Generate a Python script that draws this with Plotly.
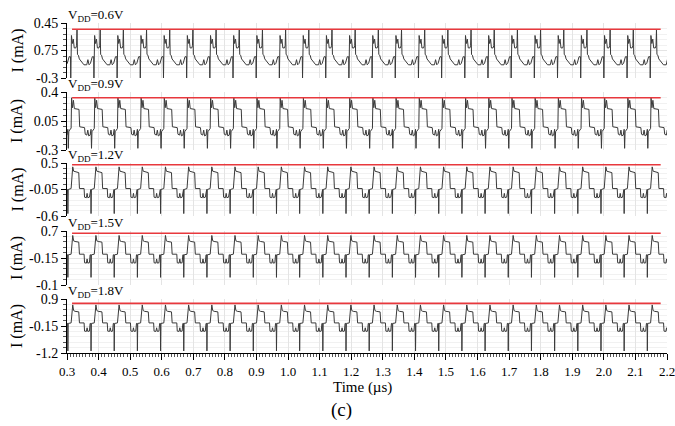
import numpy as np
import plotly.graph_objects as go

# ---------------- data ----------------
time_ticks = [0.3, 0.4, 0.5, 0.6, 0.7, 0.8, 0.9, 1.0, 1.1, 1.2, 1.3, 1.4, 1.5,
              1.6, 1.7, 1.8, 1.9, 2.0, 2.1, 2.2]
time_tick_labels = ["0.3", "0.4", "0.5", "0.6", "0.7", "0.8", "0.9", "1.0", "1.1",
                    "1.2", "1.3", "1.4", "1.5", "1.6", "1.7", "1.8", "1.9", "2.0",
                    "2.1", "2.2"]
vdd_labels = ["0.6", "0.9", "1.2", "1.5", "1.8"]

period_us = 0.0734           # waveform period
first_edge_us = [0.3317, 0.313, 0.313, 0.313, 0.313]
n_periods = 27

# one period of each current waveform (phase fraction, current in mA)
p1_phase = [0.00, 0.02, 0.06, 0.10, 0.16, 0.22, 0.30, 0.42, 0.47, 0.52, 0.58,
            0.66, 0.72, 0.73, 0.76, 0.80, 0.84, 0.88, 0.95, 0.98]
p1_current = [0.36, 0.02, 0.01, -0.04, -0.06, -0.09, -0.12, -0.12, -0.05, -0.12,
              -0.10, -0.01, -0.01, -0.30, 0.28, 0.17, 0.23, 0.11, 0.11, 0.14]

p2_phase = [0.00, 0.02, 0.06, 0.10, 0.14, 0.34, 0.37, 0.58, 0.61, 0.68, 0.72,
            0.76, 0.82, 0.86, 0.88, 0.90, 0.95]
p2_current = [-0.04, 0.33, 0.21, 0.30, 0.20, 0.19, -0.02, -0.03, -0.11, -0.12,
              -0.06, -0.13, -0.12, -0.05, -0.28, -0.08, -0.05]

p3_phase = [0.00, 0.03, 0.07, 0.11, 0.17, 0.33, 0.36, 0.56, 0.58, 0.66, 0.69,
            0.72, 0.79, 0.82, 0.85, 0.86, 0.875]
p3_current = [-0.03, 0.32, 0.42, 0.33, 0.32, 0.30, -0.03, -0.03, -0.21, -0.22,
              -0.13, -0.22, -0.21, -0.05, -0.05, -0.55, -0.05]

p4_phase = [0.00, 0.03, 0.07, 0.11, 0.17, 0.33, 0.36, 0.56, 0.58, 0.66, 0.69,
            0.72, 0.79, 0.82, 0.85, 0.86, 0.875]
p4_current = [-0.03, 0.42, 0.56, 0.39, 0.37, 0.35, -0.03, -0.03, -0.30, -0.31,
              -0.18, -0.31, -0.30, -0.05, -0.05, -0.76, -0.05]

p5_phase = [0.00, 0.03, 0.07, 0.11, 0.17, 0.33, 0.36, 0.56, 0.58, 0.66, 0.69,
            0.72, 0.79, 0.82, 0.85, 0.86, 0.875]
p5_current = [-0.03, 0.50, 0.67, 0.45, 0.42, 0.40, -0.03, -0.03, -0.35, -0.36,
              -0.22, -0.36, -0.35, -0.05, -0.05, -1.12, -0.05]

red_level = [0.364, 0.331, 0.465, 0.63, 0.73]
red_start_us, red_end_us = 0.316, 2.18

y_low = [-0.3, -0.3, -0.6, -1.0, -1.2]
y_mid = [0.075, 0.05, -0.05, -0.15, -0.15]
y_high = [0.45, 0.4, 0.5, 0.7, 0.9]
y_tick_text = [["-0.3", "0.75", "0.45"],
               ["-0.3", "0.05", "0.4"],
               ["-0.6", "-0.05", "0.5"],
               ["-0.1", "-0.15", "0.7"],
               ["-1.2", "-0.15", "0.9"]]

shapes_phase = [p1_phase, p2_phase, p3_phase, p4_phase, p5_phase]
shapes_current = [p1_current, p2_current, p3_current, p4_current, p5_current]

# ---------------- layout geometry ----------------
W, H = 675, 426
ML, MR, MT, MB = 67, 8, 23, 73
plot_h = H - MT - MB
panel_px = [(23, 78), (92, 150), (163, 216), (231, 285), (299, 353)]
label_px = [15, 84, 155, 223, 291]


def py(px):
    return (H - MB - px) / plot_h


def px_x(px):
    return (px - ML) / (W - ML - MR)


FONT = "serif"

fig = go.Figure()
layout = dict(
    template="none",
    width=W, height=H,
    margin=dict(l=ML, r=MR, t=MT, b=MB, autoexpand=False),
    paper_bgcolor="white", plot_bgcolor="white",
    showlegend=False,
    font=dict(family=FONT, color="black"),
    annotations=[],
)

for i in range(5):
    n = i + 1
    xa = "x" if n == 1 else f"x{n}"
    ya = "y" if n == 1 else f"y{n}"
    ph = np.array(shapes_phase[i])
    cur = np.array(shapes_current[i])
    t = np.concatenate([first_edge_us[i] + (k + ph) * period_us
                        for k in range(-1, n_periods)])
    c = np.tile(cur, n_periods + 1)
    fig.add_trace(go.Scatter(x=t, y=c, mode="lines", xaxis=xa, yaxis=ya,
                             line=dict(color="#3a3a3a", width=1)))
    fig.add_trace(go.Scatter(x=[red_start_us, red_end_us],
                             y=[red_level[i], red_level[i]], mode="lines",
                             xaxis=xa, yaxis=ya,
                             line=dict(color="#e8383d", width=1.6)))

    top, bot = panel_px[i]
    last = n == 5
    xkey = "xaxis" if n == 1 else f"xaxis{n}"
    ykey = "yaxis" if n == 1 else f"yaxis{n}"
    layout[xkey] = dict(
        domain=[0, 1], anchor=ya, range=[0.3, 2.2], automargin=False,
        tickmode="array", tickvals=time_ticks, ticktext=time_tick_labels,
        showticklabels=last, ticklabeloverflow="allow",
        showgrid=True, gridcolor="#e4e4e4", gridwidth=1,
        zeroline=False,
        showline=last, linecolor="black", linewidth=1,
        ticks="outside" if last else "", ticklen=6, tickcolor="black",
        tickfont=dict(family=FONT, size=13, color="black"),
        minor=dict(ticks="outside" if last else "", ticklen=3, tickcolor="#555",
                   tickmode="linear", tick0=0.3, dtick=0.01, showgrid=False),
    )
    if n > 1:
        layout[xkey]["matches"] = "x"
    rng = y_high[i] - y_low[i]
    layout[ykey] = dict(
        domain=[py(bot), py(top)], anchor=xa, automargin=False,
        range=[y_low[i], y_high[i]],
        tickmode="array", tickvals=[y_low[i], y_mid[i], y_high[i]],
        ticktext=y_tick_text[i], ticklabeloverflow="allow",
        showgrid=True, gridcolor="#e4e4e4", zeroline=False,
        showline=True, linecolor="black", linewidth=1,
        ticks="outside", ticklen=5, tickcolor="black",
        tickfont=dict(family=FONT, size=14, color="black"),
        minor=dict(ticks="outside", ticklen=3, tickcolor="#555",
                   tickmode="linear", tick0=y_low[i], dtick=rng / 10,
                   showgrid=True, gridcolor="#f1f1f1"),
    )
    layout["annotations"].append(dict(
        text=f"V<sub>DD</sub>={vdd_labels[i]}V", xref="paper", yref="paper",
        x=px_x(66), y=py(label_px[i]), xanchor="left", yanchor="middle",
        showarrow=False, font=dict(family=FONT, size=13, color="black")))
    layout["annotations"].append(dict(
        text="I (mA)", xref="paper", yref="paper", textangle=-90,
        x=px_x(17), y=py((top + bot) / 2), xanchor="center", yanchor="middle",
        showarrow=False, font=dict(family=FONT, size=16, color="black")))

layout["annotations"].append(dict(
    text="Time (µs)", xref="paper", yref="paper", x=px_x(362), y=py(388),
    xanchor="center", yanchor="middle", showarrow=False,
    font=dict(family=FONT, size=15, color="black")))
layout["annotations"].append(dict(
    text="(c)", xref="paper", yref="paper", x=px_x(341), y=py(410),
    xanchor="center", yanchor="middle", showarrow=False,
    font=dict(family=FONT, size=19, color="black")))

fig.update_layout(**layout)
fig.write_html("out.html", config={"displayModeBar": False},
               post_script="document.body.style.margin='0';")
